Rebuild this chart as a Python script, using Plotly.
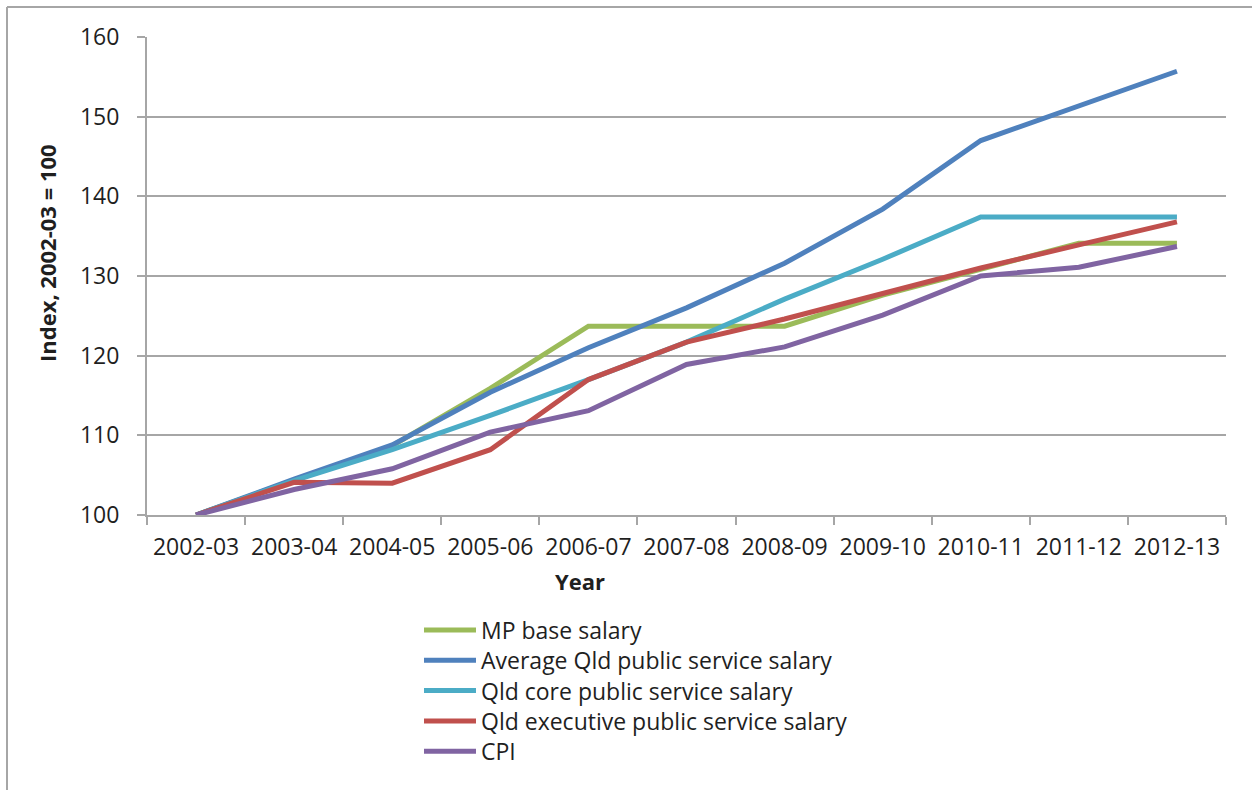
import plotly.graph_objects as go

years = ['2002-03', '2003-04', '2004-05', '2005-06', '2006-07', '2007-08',
         '2008-09', '2009-10', '2010-11', '2011-12', '2012-13']
mp_base = [100, 104.4, 108.7, 115.9, 123.7, 123.7, 123.7, 127.6, 130.9, 134.1, 134.1]
avg_qld = [100, 104.5, 108.8, 115.4, 121.0, 126.0, 131.6, 138.4, 147.0, 151.3, 155.7]
core_qld = [100, 104.3, 108.2, 112.5, 117.0, 121.7, 127.1, 132.1, 137.4, 137.4, 137.4]
exec_qld = [100, 104.1, 104.0, 108.2, 117.0, 121.7, 124.6, 127.8, 131.0, 133.9, 136.8]
cpi = [100, 103.2, 105.8, 110.4, 113.1, 118.9, 121.1, 125.1, 130.0, 131.1, 133.7]

series_names = ['MP base salary', 'Average Qld public service salary',
                'Qld core public service salary', 'Qld executive public service salary', 'CPI']
series_values = [mp_base, avg_qld, core_qld, exec_qld, cpi]
series_colors = ['#9BBB59', '#4F81BD', '#4BACC6', '#C0504D', '#8064A2']

x_title = 'Year'
y_title = 'Index, 2002-03 = 100'

W, H = 1252, 790
L, R, T, B = 147, 1226, 37, 515
FONT = 'Open Sans'
GRID = '#A6A6A6'
TXT = '#1F1F1F'

def px(x):
    return (x - L) / (R - L)

def py(y):
    return (B - y) / (B - T)

fig = go.Figure()
for name, vals, col in zip(series_names, series_values, series_colors):
    fig.add_trace(go.Scatter(x=years, y=vals, mode='lines', name=name,
                             line=dict(color=col, width=5), showlegend=False))

shapes = []
annotations = []
# outer frame (left and top edges)
shapes.append(dict(type='line', xref='paper', yref='paper', x0=px(7), x1=px(W + 5),
                   y0=py(7), y1=py(7), line=dict(color=GRID, width=2)))
shapes.append(dict(type='line', xref='paper', yref='paper', x0=px(7), x1=px(7),
                   y0=py(7), y1=py(H + 5), line=dict(color=GRID, width=2)))

# custom legend
leg_y0 = 630
leg_dy = 30.3
for i, (name, col) in enumerate(zip(series_names, series_colors)):
    yy = leg_y0 + i * leg_dy
    shapes.append(dict(type='line', xref='paper', yref='paper', x0=px(424), x1=px(476),
                       y0=py(yy), y1=py(yy), line=dict(color=col, width=5)))
    annotations.append(dict(xref='paper', yref='paper', x=px(479), y=py(yy), text=name,
                            showarrow=False, xanchor='left', yanchor='middle',
                            font=dict(family=FONT, size=23, color=TXT)))

# axis titles
annotations.append(dict(xref='paper', yref='paper', x=px(580), y=py(581),
                        text='<b>' + x_title + '</b>', showarrow=False,
                        xanchor='center', yanchor='middle',
                        font=dict(family=FONT, size=22, color=TXT)))
annotations.append(dict(xref='paper', yref='paper', x=px(47), y=py(253),
                        text='<b>' + y_title + '</b>', showarrow=False, textangle=-90,
                        xanchor='center', yanchor='middle',
                        font=dict(family=FONT, size=22, color=TXT)))

fig.update_layout(
    width=W, height=H,
    margin=dict(l=L, r=W - R, t=T, b=H - B),
    paper_bgcolor='white', plot_bgcolor='white',
    font=dict(family=FONT, size=23, color=TXT),
    shapes=shapes, annotations=annotations,
    showlegend=False,
    xaxis=dict(
        type='category', range=[-0.5, 10.5], tickson='boundaries',
        ticks='outside', ticklen=8, tickcolor=GRID, tickwidth=2,
        showline=True, linecolor=GRID, linewidth=2, showgrid=False,
        tickfont=dict(family=FONT, size=23, color=TXT),
        ticklabelstandoff=10,
    ),
    yaxis=dict(
        range=[100, 160], dtick=10, tickmode='linear', tick0=100,
        ticks='outside', ticklen=8, tickcolor=GRID, tickwidth=2,
        showline=True, linecolor=GRID, linewidth=2,
        showgrid=True, gridcolor=GRID, gridwidth=2, zeroline=False,
        tickfont=dict(family=FONT, size=23, color=TXT),
        ticklabelstandoff=13,
    ),
)

fig.write_html('out.html')
